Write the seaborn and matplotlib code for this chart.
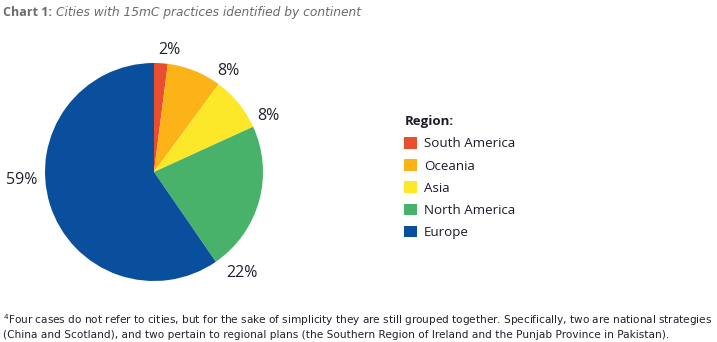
import matplotlib
matplotlib.use("Agg")
import matplotlib.pyplot as plt
from matplotlib.patches import Patch
import numpy as np
import seaborn as sns

# Share of cities with 15-minute-city practices, by continent
regions = ["South America", "Oceania", "Asia", "North America", "Europe"]
shares = [2, 8, 8, 22, 59]
colors = ["#E94E2F", "#FBB317", "#FCE829", "#48B16A", "#0A4F9D"]

# where each percentage label sits: fraction along its wedge, distance in radii
label_frac = [0.97, 1.0, 0.94, 0.92, 0.565]
label_dist = [1.13, 1.15, 1.17, 1.23, 1.22]

sns.set_theme(style="white")
plt.rcParams["font.family"] = ["Open Sans", "DejaVu Sans"]

fig = plt.figure(figsize=(7.17, 3.42), dpi=100)
ax = fig.add_axes([45 / 717, (342 - 172 - 109) / 342, 218 / 717, 218 / 342])

wedges, _ = ax.pie(shares, colors=sns.color_palette(colors), startangle=90,
                   counterclock=False, radius=1.0,
                   wedgeprops=dict(linewidth=0))
ax.set_xlim(-1, 1)
ax.set_ylim(-1, 1)
ax.set_aspect("equal")
ax.axis("off")

for w, val, f, d in zip(wedges, shares, label_frac, label_dist):
    # clockwise wedges: theta2 is the start, theta1 the end
    ang = np.deg2rad(w.theta2 - f * (w.theta2 - w.theta1))
    ax.text(d * np.cos(ang), d * np.sin(ang), f"{val}%", ha="center", va="center",
            fontsize=11.5, color="#22222e", fontweight="normal")

handles = [Patch(facecolor=c, edgecolor="none") for c in colors]
leg = fig.legend(handles, regions, title="Region:", loc="upper left",
                 bbox_to_anchor=(395 / 717, 1 - 106 / 342), frameon=False,
                 fontsize=9.6, title_fontsize=9.5, handlelength=0.95,
                 handleheight=0.95, handletextpad=0.5, labelspacing=0.66,
                 borderpad=0.2)
leg.get_title().set_fontweight("bold")
leg.get_title().set_color("#1c1c28")
leg._legend_box.align = "left"
for t in leg.get_texts():
    t.set_color("#1c1c28")

fig.text(3 / 717, 1 - 12.5 / 342, "Chart 1:", fontsize=9, fontweight="bold",
         color="#6b6b6b", va="center", ha="left")
fig.text(56 / 717, 1 - 12.5 / 342, "Cities with 15mC practices identified by continent",
         fontsize=8.85, fontstyle="italic", color="#6b6b6b", va="center", ha="left",
         family=["DejaVu Sans"])

foot = ("$^{4}$Four cases do not refer to cities, but for the sake of simplicity they are still grouped together. "
        "Specifically, two are national strategies\n"
        "(China and Scotland), and two pertain to regional plans (the Southern Region of Ireland and the Punjab "
        "Province in Pakistan).")
fig.text(3 / 717, 1 - 312 / 342, foot, fontsize=7.6, color="#22222e", va="top", ha="left",
         linespacing=1.3, family=["Liberation Sans Narrow", "DejaVu Sans"])

fig.savefig("out.png", dpi=100, facecolor="white")
